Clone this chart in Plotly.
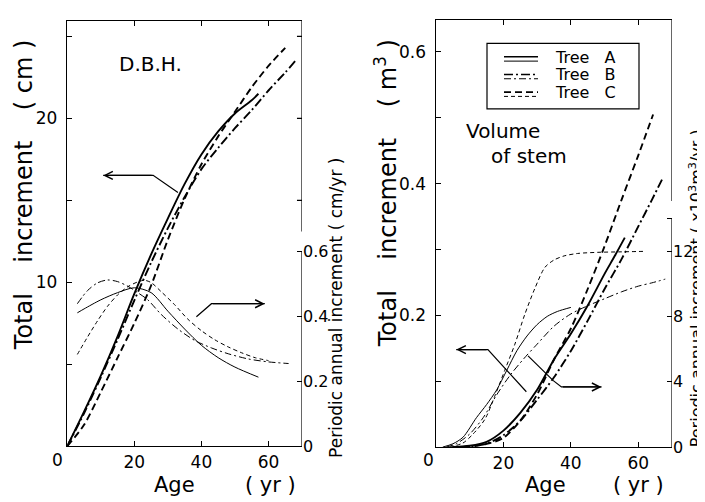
import plotly.graph_objects as go

W, H = 705, 502
FONT = "DejaVu Sans"
NB = "\u00a0"

# ---------------- D.B.H. panel (left) ----------------
dbh_age_A = [0, 5, 10, 15, 20, 25, 30, 35, 40, 45, 50, 55, 57]
dbh_tot_A = [0, 2.1, 4.3, 6.7, 9.3, 11.7, 13.9, 16.0, 17.8, 19.2, 20.3, 21.1, 21.5]
dbh_age_B = [0, 5, 10, 15, 20, 25, 30, 35, 40, 45, 50, 55, 60, 65, 68]
dbh_tot_B = [0, 2.0, 4.2, 6.5, 8.9, 11.2, 13.3, 15.2, 16.9, 18.2, 19.4, 20.5, 21.7, 22.8, 23.5]
dbh_age_C = [0, 5, 10, 15, 20, 25, 30, 35, 40, 45, 50, 55, 60, 65]
dbh_tot_C = [0, 1.3, 3.3, 5.4, 7.5, 9.8, 12.6, 15.1, 17.2, 18.9, 20.4, 21.9, 23.2, 24.3]

pai_age_A = [3, 5, 10, 15, 20, 25, 30, 35, 40, 45, 50, 57]
pai_A = [0.41, 0.422, 0.45, 0.472, 0.487, 0.472, 0.415, 0.36, 0.31, 0.272, 0.243, 0.212]
pai_age_B = [3, 6, 9, 12, 15, 18, 21, 24, 28, 33, 38, 43, 48, 54, 60, 66]
pai_B = [0.438, 0.478, 0.502, 0.511, 0.506, 0.492, 0.472, 0.45, 0.405, 0.36, 0.325, 0.302,
         0.284, 0.268, 0.259, 0.254]
pai_age_C = [3, 6, 9, 12, 15, 18, 21, 23, 25, 28, 32, 36, 40, 44, 48, 52, 56, 60]
pai_C = [0.282, 0.335, 0.385, 0.43, 0.465, 0.49, 0.505, 0.51, 0.503, 0.475, 0.435, 0.39,
         0.355, 0.327, 0.305, 0.287, 0.272, 0.263]

# ---------------- Volume of stem panel (right) ----------------
vol_age_A = [5, 10, 15, 20, 25, 30, 35, 40, 45, 50, 53, 56]
vol_tot_A = [0, 0.002, 0.008, 0.025, 0.052, 0.087, 0.133, 0.172, 0.215, 0.263, 0.29, 0.318]
vol_age_B = [7, 10, 15, 20, 25, 30, 35, 40, 45, 50, 55, 60, 64, 67.4]
vol_tot_B = [0, 0.001, 0.005, 0.018, 0.04, 0.072, 0.106, 0.146, 0.192, 0.24, 0.285, 0.335,
             0.375, 0.41]
vol_age_C = [8, 12, 16, 20, 25, 30, 35, 40, 45, 50, 55, 60, 64.4]
vol_tot_C = [0, 0.002, 0.006, 0.014, 0.04, 0.08, 0.133, 0.18, 0.24, 0.305, 0.375, 0.443, 0.505]

vpai_age_A = [2, 5, 8, 12, 15, 18, 21, 24, 27, 30, 33, 36, 40]
vpai_A = [0, 0.2, 0.6, 1.8, 2.6, 3.5, 4.7, 5.9, 6.8, 7.5, 8.0, 8.3, 8.55]
vpai_age_B = [3, 6, 10, 14, 18, 22, 26, 30, 35, 40, 45, 50, 55, 60, 64, 68]
vpai_B = [0, 0.2, 0.8, 1.8, 3.2, 4.4, 5.4, 6.3, 7.4, 8.15, 8.65, 9.08, 9.5, 9.85, 10.05, 10.28]
vpai_age_C = [4, 8, 11, 14.5, 17.4, 20.4, 23.4, 26.3, 29.3, 32.3, 35, 38, 42, 48, 55, 62]
vpai_C = [0, 0.25, 0.8, 1.7, 3.1, 4.7, 6.3, 8.1, 9.7, 11.0, 11.45, 11.7, 11.85, 11.92, 11.95, 11.98]

# ---------------- axes / labels ----------------
x_ticks = [20, 40, 60]
dbh_ticks = [5, 10, 15, 20, 25]
dbh_ticktext = [" ", "10" + NB, " ", "20" + NB, " "]
dbh_pai_ticks = [0, 0.2, 0.4, 0.6]
dbh_pai_ticktext = ["0", "0.2", "0.4", "0.6"]
vol_ticks = [0.1, 0.2, 0.3, 0.4, 0.5, 0.6]
vol_ticktext = [" ", "0.2" + NB, " ", "0.4" + NB, " ", "0.6" + NB]
vol_pai_ticks = [0, 4, 8, 12, 14]
vol_pai_ticktext = ["0", "4", "8", "12", " "]
legend_names = ["Tree" + NB * 3 + "A", "Tree" + NB * 3 + "B", "Tree" + NB * 3 + "C"]

# arrows (data coordinates)
arrow1_x = [33.0, 25.6, 10.7]; arrow1_y = [15.47, 16.52, 16.52]      # left axis, DBH
arrow2_x = [38.5, 43.0, 58.9]; arrow2_y = [0.398, 0.438, 0.438]      # right axis, DBH
arrow3_x = [26.8, 15.4, 6.0]; arrow3_y = [0.084, 0.148, 0.148]       # left axis, volume
arrow4_x = [27.3, 34.7, 37.2, 49.1]; arrow4_y = [5.58, 4.08, 3.68, 3.68]  # right axis, volume

DASH_B = "9px,3px,2px,3px"
DASH_C = "7px,4px"
DASH_B_THIN = "7px,3px,2px,3px"
DASH_C_THIN = "4px,3px"
THICK, THIN = 1.9, 1.0

fig = go.Figure()


def add_line(x, y, xa, ya, width, dash, shape="spline"):
    fig.add_trace(go.Scatter(
        x=x, y=y, xaxis=xa, yaxis=ya, mode="lines",
        line=dict(color="black", width=width, dash=dash, shape=shape, smoothing=0.8),
        hoverinfo="skip", showlegend=False))


# left panel
add_line(dbh_age_A, dbh_tot_A, "x", "y", THICK, "solid")
add_line(dbh_age_B, dbh_tot_B, "x", "y", THICK, DASH_B)
add_line(dbh_age_C, dbh_tot_C, "x", "y", THICK, DASH_C)
add_line(pai_age_A, pai_A, "x", "y2", THIN, "solid")
add_line(pai_age_B, pai_B, "x", "y2", THIN, DASH_B_THIN)
add_line(pai_age_C, pai_C, "x", "y2", THIN, DASH_C_THIN)
# right panel
add_line(vol_age_A, vol_tot_A, "x2", "y3", THICK, "solid")
add_line(vol_age_B, vol_tot_B, "x2", "y3", THICK, DASH_B)
add_line(vol_age_C, vol_tot_C, "x2", "y3", THICK, DASH_C)
add_line(vpai_age_A, vpai_A, "x2", "y4", THIN, "solid")
add_line(vpai_age_B, vpai_B, "x2", "y4", THIN, DASH_B_THIN)
add_line(vpai_age_C, vpai_C, "x2", "y4", THIN, DASH_C_THIN)

arrows = [(arrow1_x, arrow1_y, "x", "y"), (arrow2_x, arrow2_y, "x", "y2"),
          (arrow3_x, arrow3_y, "x2", "y3"), (arrow4_x, arrow4_y, "x2", "y4")]
for ax_, ay_, xa, ya in arrows:
    add_line(ax_, ay_, xa, ya, 1.2, "solid", shape="linear")

annotations = []
for ax_, ay_, xa, ya in arrows:
    annotations.append(dict(x=ax_[-1], y=ay_[-1], ax=ax_[-2], ay=ay_[-2], xref=xa, yref=ya,
                            axref=xa, ayref=ya, showarrow=True, arrowhead=5, arrowsize=1.3,
                            arrowwidth=1.2, arrowcolor="black", text=""))


def px(v):
    return v / W


def py(v):
    return 1 - v / H


tickfont = dict(family=FONT, size=17, color="black")
tickfont_r = dict(family=FONT, size=16, color="black")
common = dict(showgrid=False, zeroline=False, linecolor="black", linewidth=1.2,
              ticks="inside", ticklen=5, tickwidth=1.2, tickcolor="black")

fig.update_layout(
    width=W, height=H, margin=dict(l=0, r=0, t=0, b=0),
    paper_bgcolor="white", plot_bgcolor="white", showlegend=False,
    font=dict(family=FONT, color="black"),
    xaxis=dict(domain=[px(59.3), px(294)], range=[0, 70], anchor="y", showline=True,
               mirror="ticks", tickvals=x_ticks, tickfont=tickfont, **common),
    yaxis=dict(domain=[py(447), py(13)], range=[0, 434 / 16.72], anchor="x", showline=True,
               tickvals=dbh_ticks, ticktext=dbh_ticktext, tickfont=tickfont, **common),
    yaxis2=dict(overlaying="y", side="right", anchor="x", range=[0, 434 / 331.7],
                showline=False, tickvals=dbh_pai_ticks, ticktext=dbh_pai_ticktext,
                tickfont=tickfont_r, **common),
    xaxis2=dict(domain=[px(428), px(664)], range=[0, 70], anchor="y3", showline=True,
                mirror="ticks", tickvals=x_ticks, tickfont=tickfont, **common),
    yaxis3=dict(domain=[py(448), py(12)], range=[0, 436 / 672], anchor="x2", showline=True,
                tickvals=vol_ticks, ticktext=vol_ticktext, tickfont=tickfont, **common),
    yaxis4=dict(overlaying="y3", side="right", anchor="x2", range=[0, 436 / 16.67],
                showline=False, tickvals=vol_pai_ticks, ticktext=vol_pai_ticktext,
                tickfont=tickfont_r, **common),
)

shapes = []
# partial right frame edges and right axes lines
shapes.append(dict(type="line", xref="x", yref="y", x0=70, x1=70, y0=(447 - 228) / 16.72,
                   y1=434 / 16.72, line=dict(color="black", width=1.2)))
shapes.append(dict(type="line", xref="x", yref="y2", x0=70, x1=70, y0=0, y1=dbh_pai_ticks[-1],
                   line=dict(color="black", width=1.2)))
shapes.append(dict(type="line", xref="x2", yref="y3", x0=70, x1=70, y0=(448 - 197) / 672,
                   y1=436 / 672, line=dict(color="black", width=1.2)))
shapes.append(dict(type="line", xref="x2", yref="y4", x0=70, x1=70, y0=0, y1=vol_pai_ticks[-1],
                   line=dict(color="black", width=1.2)))
# mirrored ticks on the right frame of the DBH panel
for v in dbh_ticks:
    if v > (447 - 228) / 16.72:
        shapes.append(dict(type="line", xref="x", yref="y", x0=70 - 1.5, x1=70, y0=v, y1=v,
                           line=dict(color="black", width=1.2)))

# legend box
shapes.append(dict(type="rect", xref="paper", yref="paper", x0=px(479), x1=px(631),
                   y0=py(103), y1=py(36), line=dict(color="black", width=1.2)))
legend_rows = [52, 70, 88]
legend_thick = ["solid", DASH_B, DASH_C]
legend_thin = ["solid", DASH_B_THIN, DASH_C_THIN]
for yc, dk, dt, name in zip(legend_rows, legend_thick, legend_thin, legend_names):
    shapes.append(dict(type="line", xref="paper", yref="paper", x0=px(496), x1=px(530),
                       y0=py(yc - 2.2), y1=py(yc - 2.2), line=dict(color="black", width=1.6, dash=dk)))
    shapes.append(dict(type="line", xref="paper", yref="paper", x0=px(496), x1=px(530),
                       y0=py(yc + 2.2), y1=py(yc + 2.2), line=dict(color="black", width=1.0, dash=dt)))
    annotations.append(dict(x=px(545), y=py(yc - 2), xref="paper", yref="paper", text=name,
                            showarrow=False, xanchor="left", yanchor="middle",
                            font=dict(family=FONT, size=16)))


def txt(x, y, s, size, angle=0, xanchor="center"):
    annotations.append(dict(x=px(x), y=py(y), xref="paper", yref="paper", text=s, showarrow=False,
                            textangle=angle, xanchor=xanchor, yanchor="middle",
                            font=dict(family=FONT, size=size, color="black")))


gap = NB * 4
ROT_DX = -8
txt(142, 57, "D.B.H.", 20)
txt(495, 126, "Volume", 20)
txt(521, 151, "of" + NB + "stem", 20)
txt(22 + ROT_DX + 2, 191, "Total" + gap + "increment" + gap + "(" + NB + "cm" + NB + ")", 24, -90)
txt(384 + ROT_DX + 2, 189, "Total" + gap + "increment" + gap + "(" + NB + "m<sup>3</sup>" + NB + ")", 24, -90)
txt(336 + ROT_DX, 306, "Periodic annual increment" + NB + "(" + NB + "cm/yr" + NB + ")", 17, -90)
txt(696 + ROT_DX, 286, "Periodic annual increment" + NB + "(" + NB + "x10<sup>3</sup>m<sup>3</sup>/yr" + NB + ")", 16, -90)
txt(166, 487, "Age", 21)
txt(262, 487, "(" + NB + "yr" + NB + ")", 21)
txt(537, 487, "Age", 21)
txt(630, 487, "(" + NB + "yr" + NB + ")", 21)
txt(49, 461, "0", 17)
txt(420, 461, "0", 17)

fig.update_layout(shapes=shapes, annotations=annotations)
fig.write_html("out.html")
